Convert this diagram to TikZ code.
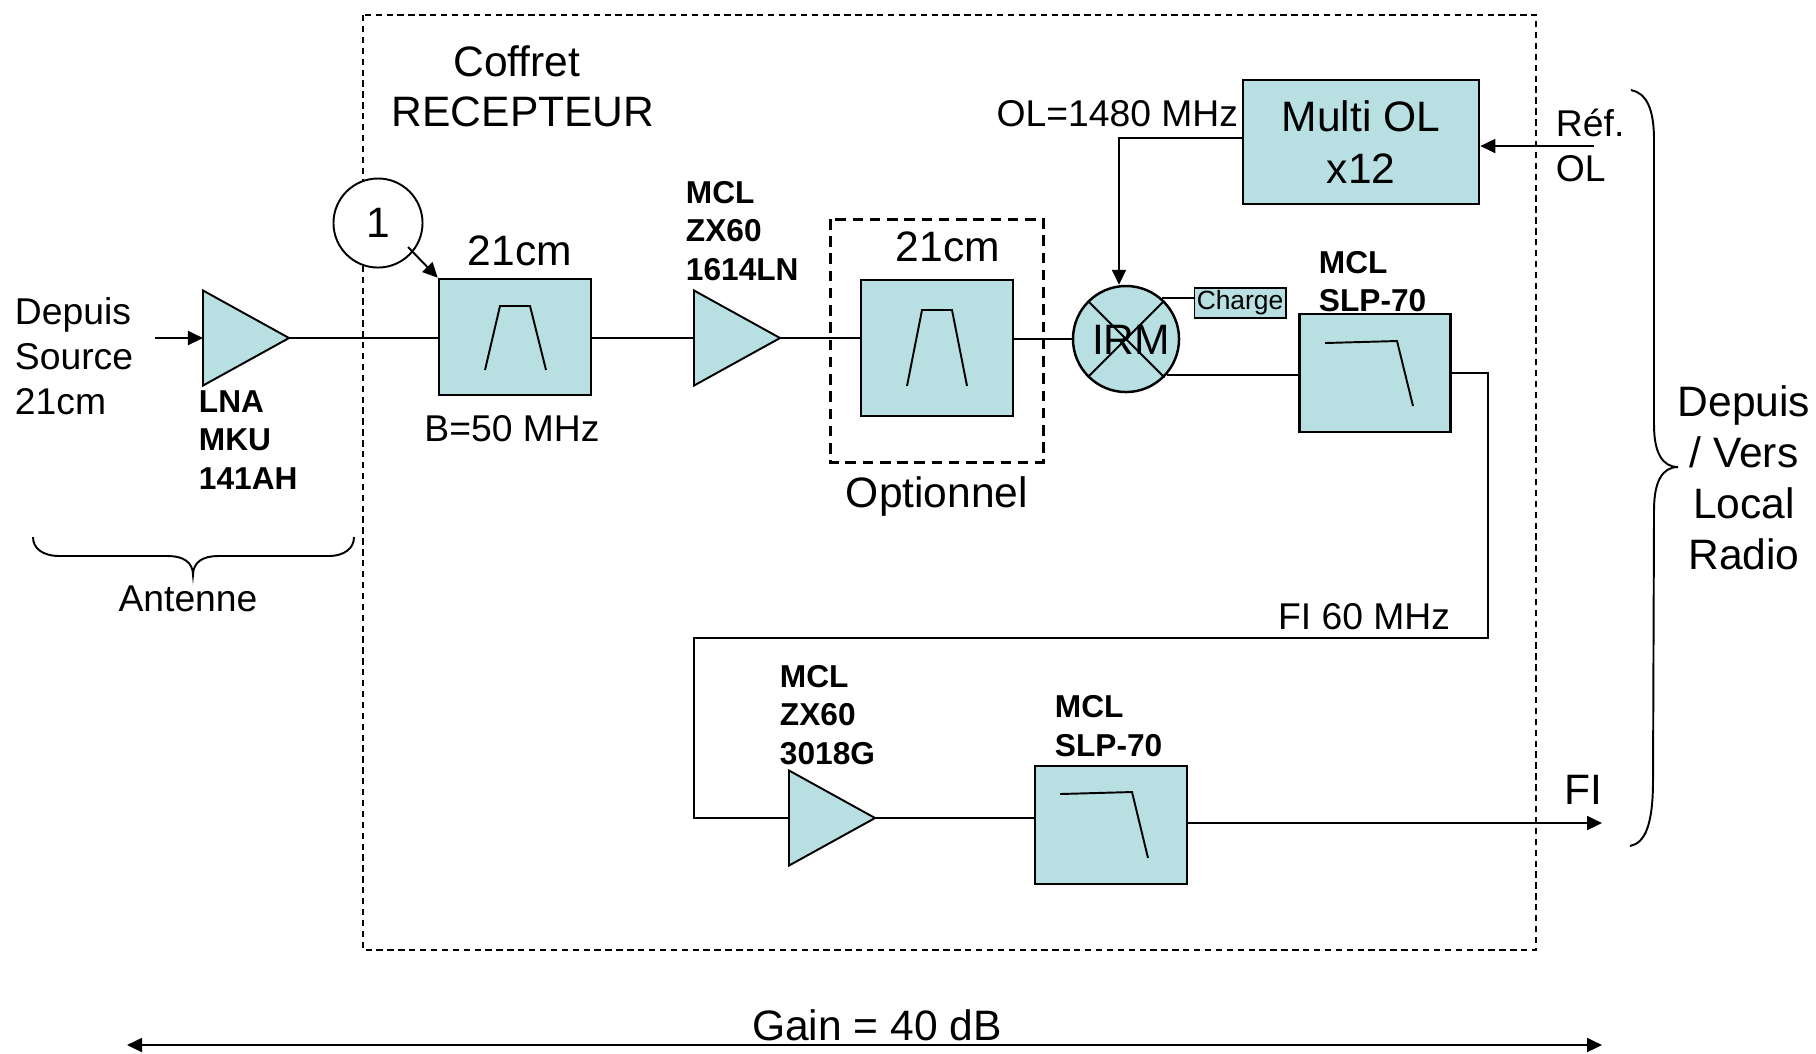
\documentclass[tikz,border=0pt]{standalone}
\usepackage{fontspec}
\setmainfont{Liberation Sans}
\usepackage{xcolor}
\usepackage{tikz}
\usetikzlibrary{shapes,shapes.geometric,arrows.meta,positioning}
\definecolor{blockTeal}{RGB}{184,224,227}

\begin{document}
\begin{tikzpicture}[
  x=0.01cm,y=-0.01cm,line width=0.55pt,
  block/.style={draw,fill=blockTeal,inner sep=0pt,line width=0.7pt,align=center},
  amp/.style={draw,fill=blockTeal,isosceles triangle,isosceles triangle stretches,inner sep=0pt,outer sep=0pt,minimum width=0.95cm,minimum height=0.86cm,anchor=lower side},
  bigtxt/.style={inner sep=0pt,align=center,font=\fontsize{12.1}{14.5}\selectfont},
  midtxt/.style={inner sep=0pt,align=left,font=\fontsize{10.6}{12.8}\selectfont},
  parttxt/.style={inner sep=0pt,align=left,anchor=west,font=\fontsize{9}{10.85}\selectfont\bfseries},
  arrow/.style={-{Triangle[length=1.5mm,width=1.4mm]}}
]
\useasboundingbox (0,0) rectangle (1816,1053);

% boxes round the receiver
\draw[dash pattern=on 1.8pt off 1.3pt] (363,15) rectangle (1536,950);
\draw[line width=0.85pt,dash pattern=on 3pt off 1.9pt] (830,219) rectangle (1043,462);

% blocks
\node[amp] (lna) at (203,338) {};
\node[block,minimum width=1.52cm,minimum height=1.16cm] (bpfa) at (515,337) {};
\node[amp] (ampb) at (694,338) {};
\node[block,minimum width=1.52cm,minimum height=1.36cm] (bpfb) at (937,348) {};
\node[block,circle,minimum size=1.06cm] (irm) at (1126,339) {};
\node[block,minimum width=2.36cm,minimum height=1.24cm,font=\fontsize{12.1}{15}\selectfont] (multi) at (1361,142) {Multi OL\\x12};
\node[draw,fill=blockTeal,inner sep=0pt,line width=0.55pt,minimum width=0.91cm,minimum height=0.3cm,font=\fontsize{7.5}{9}\selectfont] (charge) at (1240,303) {Charge};
\node[block,minimum width=1.51cm,minimum height=1.18cm] (lpfa) at (1375,373) {};
\node[amp] (ampc) at (789,818) {};
\node[block,minimum width=1.52cm,minimum height=1.18cm] (lpfb) at (1111,825) {};
\node[draw,circle,fill=white,inner sep=0pt,minimum size=0.89cm,font=\fontsize{12.1}{14}\selectfont] (one) at (378,223) {1};

% curves inside the blocks
\draw (485,370) -- (500,306) -- (530,306) -- (546,370);
\draw (907,386) -- (922,310) -- (952,310) -- (967,386);
\draw (1325,343) -- (1397,341) -- (1413,406);
\draw (1060,794) -- (1132,792) -- (1148,858);
\draw (irm.north west) -- (irm.south east);
\draw (irm.north east) -- (irm.south west);

% free ends
\coordinate (srcin) at (155,338);
\coordinate (onefoot) at (408,247);
\coordinate (refin) at (1594,146);
\coordinate (oldrop) at (1119,138);
\coordinate (turnr) at (1488,638);
\coordinate (turnl) at (694,638);
\coordinate (fiout) at (1602,823);
\coordinate (gainl) at (127,1045);
\coordinate (gainr) at (1602,1045);

% connectors
\draw[arrow] (srcin) -- (lna.lower side);
\draw (lna.apex) -- (lna.apex -| bpfa.west);
\draw (bpfa.east |- ampb.lower side) -- (ampb.lower side);
\draw (ampb.apex) -- (ampb.apex -| bpfb.west);
\draw (bpfb.east |- irm.west) -- (irm.west);
\draw[arrow] (oldrop -| multi.west) -- (oldrop) -- (oldrop |- irm.north);
\draw[arrow] (refin) -- (refin -| multi.east);
\draw (irm.49) -- (irm.49 -| charge.west);
\draw (irm.-41) -- (irm.-41 -| lpfa.west);
\draw (lpfa.east) -| (turnr) -- (turnl) |- (ampc.lower side);
\draw (ampc.apex) -- (ampc.apex -| lpfb.west);
\draw[arrow] (fiout -| lpfb.east) -- (fiout);
\draw[arrow] (onefoot) -- (bpfa.north west);
\draw[{Triangle[length=1.5mm,width=1.4mm]}-{Triangle[length=1.5mm,width=1.4mm]}] (gainl) -- (gainr);

% braces
\draw (33,537) .. controls (33,548) and (42,556) .. (60,556) -- (168,556) .. controls (183,556) and (193,562) .. (193,575) .. controls (193,562) and (203,556) .. (218,556) -- (328,556) .. controls (345,556) and (354,548) .. (354,537);
\draw (1631,90) .. controls (1646,93) and (1654,108) .. (1654,140) -- (1654,425) .. controls (1654,452) and (1662,467) .. (1678,467) .. controls (1662,467) and (1654,482) .. (1654,510) -- (1653,780) .. controls (1653,825) and (1645,843) .. (1630,846);

% labels
\node[bigtxt] (coffret) at (517,61) {Coffret};
\node[bigtxt] (recept) at (523,112) {RECEPTEUR};
\node[midtxt,anchor=west] (depuis) at (14,356) {Depuis\\Source\\21cm};
\node[parttxt] (lnatxt) at (198,440) {LNA\\MKU\\141AH};
\node[bigtxt] (lena) at (520,251) {21cm};
\node[midtxt] (band) at (512,429) {B=50 MHz};
\node[parttxt] (ampbtxt) at (685,231) {MCL\\ZX60\\1614LN};
\node[bigtxt] (lenb) at (948,247) {21cm};
\node[bigtxt] (option) at (937,496) {Optionnel};
\node[bigtxt] (irmtxt) at (1131,340) {IRM};
\node[midtxt,anchor=east] (oltxt) at (1239,114) {OL=1480 MHz};
\node[midtxt,anchor=west] (reftxt) at (1555,145) {Réf.\\OL};
\node[parttxt] (lpfatxt) at (1318,282) {MCL\\SLP-70};
\node[midtxt] (fifreq) at (1364,617) {FI 60 MHz};
\node[parttxt] (ampctxt) at (779,715) {MCL\\ZX60\\3018G};
\node[parttxt] (lpfbtxt) at (1054,726) {MCL\\SLP-70};
\node[bigtxt] (fitxt) at (1583,790) {FI};
\node[bigtxt] (radio) at (1744,478) {Depuis\\/ Vers\\Local\\Radio};
\node[midtxt] (antenne) at (188,599) {Antenne};
\node[bigtxt] (gaintxt) at (877,1025) {Gain = 40 dB};
\end{tikzpicture}
\end{document}
